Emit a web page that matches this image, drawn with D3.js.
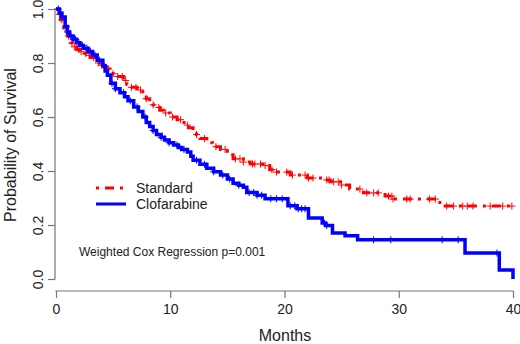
<!DOCTYPE html>
<html><head><meta charset="utf-8">
<script src="https://cdn.jsdelivr.net/npm/d3@7"></script>
<style>body{margin:0;background:#fff;}svg{display:block;font-family:"Liberation Sans",Arial,sans-serif;}</style>
</head><body><svg id="c" width="520" height="344"></svg>
<script>
const seriesNames = ["Standard", "Clofarabine"];
const standardTimes = [0,0.2,0.4,0.7,1.0,1.3,1.6,1.8,2.1,2.4,2.7,3.0,3.5,3.8,4.1,4.4,4.7,5.0,5.3,5.9,6.2,6.5,7.1,7.6,7.9,8.2,8.5,8.8,9.1,9.4,10.0,10.6,11.2,11.6,12.0,12.3,12.6,13.2,13.7,14.4,15.0,15.5,16.4,17.0,18.1,18.7,19.3,20.5,22.0,23.4,24.0,24.9,25.7,26.9,28.8,29.5,33.6,40.2];
const standardSurv = [1.0,0.98,0.96,0.93,0.9,0.875,0.86,0.85,0.842,0.835,0.828,0.82,0.8,0.792,0.785,0.778,0.77,0.76,0.75,0.735,0.72,0.71,0.7,0.68,0.668,0.655,0.645,0.635,0.625,0.615,0.6,0.59,0.57,0.56,0.55,0.535,0.52,0.505,0.49,0.48,0.46,0.445,0.433,0.426,0.42,0.405,0.396,0.385,0.374,0.367,0.36,0.348,0.333,0.319,0.307,0.296,0.27,0.27];
const standardCensor = [0.3,0.5,0.8,1.1,1.4,1.6,2.0,2.2,2.6,2.9,3.3,3.7,4.0,4.3,4.6,5.0,5.4,5.8,6.1,6.6,7.0,7.4,7.9,8.5,9.0,9.6,10.2,10.9,11.5,12.3,13.0,14.0,14.8,15.7,16.1,16.4,17.2,17.4,17.9,18.3,18.9,19.3,20.2,20.7,21.8,22.1,22.5,23.7,23.9,24.3,24.7,25.0,26.6,27.2,27.8,28.2,29.1,29.4,29.5,30.7,31.0,32.7,33.2,34.2,34.8,35.6,36.0,36.5,38.0,39.1,39.9];
const clofTimes = [0,0.3,0.5,0.8,1.0,1.2,1.5,1.8,2.1,2.4,2.8,3.2,3.6,4.1,4.3,4.5,4.8,5.2,5.6,6.0,6.3,6.8,7.2,7.6,7.9,8.2,8.5,8.8,9.2,9.5,9.9,10.3,10.7,11.0,11.5,11.8,12.0,12.6,13.2,13.8,14.4,15.0,15.5,16.0,16.4,16.7,17.6,18.3,20.3,21.1,22.1,23.3,23.6,24.2,25.3,26.4,35.8,38.8,40.0];
const clofSurv = [1.0,0.985,0.97,0.935,0.915,0.9,0.888,0.875,0.865,0.855,0.843,0.83,0.81,0.79,0.77,0.755,0.725,0.705,0.69,0.675,0.66,0.637,0.62,0.6,0.58,0.565,0.55,0.535,0.525,0.515,0.505,0.496,0.487,0.48,0.47,0.455,0.44,0.425,0.41,0.397,0.385,0.37,0.355,0.347,0.34,0.32,0.31,0.297,0.271,0.26,0.226,0.207,0.198,0.17,0.16,0.145,0.096,0.033,0.0];
const clofCensor = [0.2,0.4,0.6,0.9,1.0,1.3,1.5,1.7,2.0,2.3,2.7,3.0,3.4,3.8,4.2,4.9,5.2,5.9,6.5,7.1,7.8,8.5,9.2,9.9,10.6,11.2,12.3,13.0,13.8,14.6,15.2,16.0,16.9,17.3,17.6,18.0,18.8,19.3,19.8,20.5,20.9,21.2,21.5,21.8,23.5,23.7,27.8,29.3,33.8,35.2,38.6];
const xTicks = [0,10,20,30,40];
const yTicks = [0,0.2,0.4,0.6,0.8,1.0];
const colors = ["#ff0000", "#0000ff"];

const svg = d3.select("#c");
const x = d3.scaleLinear().domain([0,40]).range([56,513]);
const y = d3.scaleLinear().domain([0,1]).range([279,9]);
const axisCol = "#777";

// axes
const gx = svg.append("g").attr("transform","translate(0,291)")
  .call(d3.axisBottom(x).tickValues(xTicks).tickSize(7).tickPadding(6).tickFormat(d3.format("d")));
const gy = svg.append("g").attr("transform","translate(55,0)")
  .call(d3.axisLeft(y).tickValues(yTicks).tickSize(7).tickPadding(6).tickFormat(d3.format(".1f")));
[gx,gy].forEach(g=>{
  g.select(".domain").attr("stroke",axisCol).attr("stroke-width",1.2);
  g.selectAll(".tick line").attr("stroke",axisCol).attr("stroke-width",1.2);
  g.selectAll(".tick text").attr("fill","#222").style("font-size","14px").style("font-family","Liberation Sans, Arial, sans-serif");
});
gx.select(".domain").attr("d", `M${x(0)},0.5V0H${x(40)}V0.5`);
gy.select(".domain").attr("d", `M-0.5,${y(0)}H0V${y(1)}H-0.5`);
gy.selectAll(".tick text").attr("transform","rotate(-90)").attr("x",0).attr("y",-12).attr("dy","0").attr("text-anchor","middle");

// labels
svg.append("text").attr("x",285).attr("y",341).attr("text-anchor","middle").attr("fill","#222").style("font-size","16px").text("Months");
svg.append("text").attr("transform","translate(16,145) rotate(-90)").attr("text-anchor","middle").attr("fill","#222").style("font-size","16px").text("Probability of Survival");

// curves
const line = d3.line().x(d=>x(d[0])).y(d=>y(d[1])).curve(d3.curveStepAfter);
function stepVal(times, surv, t){ let i = d3.bisectRight(times, t) - 1; return surv[Math.max(0,i)]; }

const standardData = standardTimes.map((t,i)=>[t, standardSurv[i]]);
const clofData = clofTimes.map((t,i)=>[t, clofSurv[i]]);

svg.append("path").datum(standardData).attr("d",line).attr("fill","none").attr("stroke",colors[0]).attr("stroke-width",3).attr("stroke-dasharray","3,6,9,6");
svg.append("g").selectAll("path").data(standardCensor).join("path")
  .attr("d", t=>{const cx=x(t), cy=y(stepVal(standardTimes,standardSurv,t)); return `M${cx-3.5},${cy}H${cx+3.5}M${cx},${cy-3.5}V${cy+3.5}`;})
  .attr("stroke",colors[0]).attr("stroke-width",1).attr("fill","none");

svg.append("path").datum(clofData).attr("d",line).attr("fill","none").attr("stroke",colors[1]).attr("stroke-width",3.5);
svg.append("g").selectAll("path").data(clofCensor).join("path")
  .attr("d", t=>{const cx=x(t), cy=y(stepVal(clofTimes,clofSurv,t)); return `M${cx-3.5},${cy}H${cx+3.5}M${cx},${cy-3.5}V${cy+3.5}`;})
  .attr("stroke",colors[1]).attr("stroke-width",1).attr("fill","none");

// legend
const lg = svg.append("g");
seriesNames.forEach((n,i)=>{
  const ly = 188 + i*16;
  lg.append("line").attr("x1",96).attr("x2",126).attr("y1",ly).attr("y2",ly).attr("stroke",colors[i])
    .attr("stroke-width",3).attr("stroke-dasharray", i===0 ? "3,6,9,6" : null);
  lg.append("text").attr("x",136).attr("y",ly+5).attr("fill","#222").style("font-size","14px").text(n);
});
svg.append("text").attr("x",79).attr("y",256).attr("fill","#222").style("font-size","12px").text("Weighted Cox Regression p=0.001");
</script></body></html>
